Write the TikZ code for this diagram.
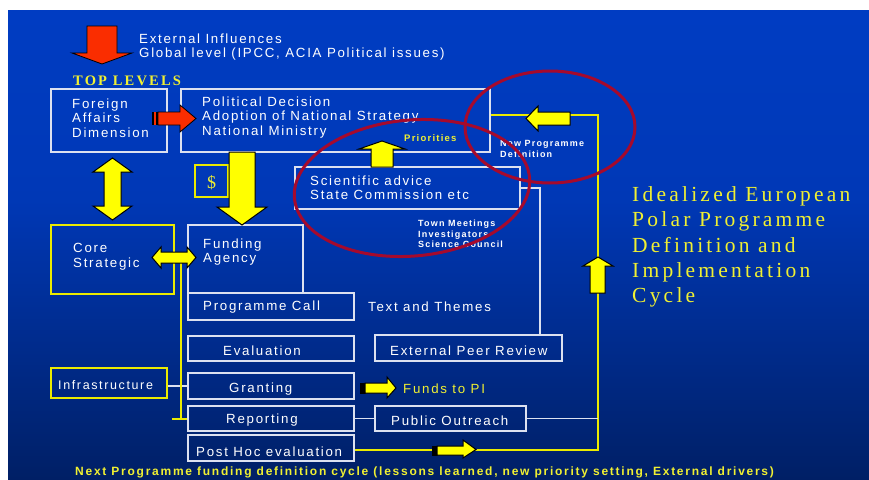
\documentclass[tikz,border=0pt]{standalone}
\usepackage{fontspec}
\setmainfont{Liberation Sans}
\newfontfamily\slidesans[LetterSpace=13]{Liberation Sans}
\newfontfamily\slidewide[LetterSpace=14.5]{Liberation Sans}
\newfontfamily\slideserif[LetterSpace=15]{Liberation Serif}
\usetikzlibrary{positioning}
\definecolor{bg_top}{RGB}{0,66,210}
\definecolor{bg_up}{RGB}{0,56,182}
\definecolor{bg_mid}{RGB}{0,34,110}
\definecolor{bg_bot}{RGB}{3,8,30}
\definecolor{box_white}{RGB}{220,225,240}
\definecolor{box_yellow}{RGB}{235,235,0}
\definecolor{text_yellow}{RGB}{240,240,50}
\definecolor{arrow_yellow}{RGB}{255,255,0}
\definecolor{arrow_red}{RGB}{250,45,0}
\definecolor{ring_red}{RGB}{165,10,45}
\pgfdeclareverticalshading{slidebg}{100bp}{color(0bp)=(bg_bot); color(28bp)=(bg_mid); color(55bp)=(bg_up); color(100bp)=(bg_top)}

\begin{document}
\begin{tikzpicture}[x=1pt,y=-1pt]
    \tikzstyle{wbox}=[draw=box_white, line width=1.3pt, inner sep=0pt]
    \tikzstyle{ybox}=[draw=box_yellow, line width=1.3pt, inner sep=0pt]
    \tikzstyle{txt}=[text=white, font=\slidesans\fontsize{13.3}{14.5}\selectfont, inner sep=0pt, align=left, anchor=west, yshift=-1.5pt]
    \tikzstyle{ytxt}=[txt, text=text_yellow]
    \tikzstyle{small}=[txt, font=\slidesans\bfseries\fontsize{9}{10.5}\selectfont]
    \tikzstyle{wline}=[draw=box_white, line width=1.2pt]
    \tikzstyle{yline}=[draw=box_yellow, line width=1.5pt]
    \tikzstyle{yarrow}=[fill=arrow_yellow, draw=black, line width=1pt]
    \tikzstyle{rarrow}=[fill=arrow_red, draw=black, line width=0.8pt]
    \tikzstyle{ring}=[draw=ring_red, line width=3pt]

    % slide background
    \fill[white] (0,0) rectangle (869,479);
    \shade[shading=slidebg] (8,10) rectangle (869,479);
    \useasboundingbox (0,0) rectangle (869,479);

    % boxes
    \node[wbox, minimum width=116, minimum height=63] (fad)   at (109,120.5) {};
    \node[wbox, minimum width=309, minimum height=63] (pol)   at (335.5,120.5) {};
    \node[wbox, minimum width=225, minimum height=42] (sci)   at (407.5,188) {};
    \node[ybox, minimum width=33, minimum height=32]  (cash)  at (211.5,181) {};
    \node[ybox, minimum width=123, minimum height=69] (core)  at (112.5,259.5) {};
    \node[wbox, minimum width=115, minimum height=68] (fund)  at (245.5,259) {};
    \node[wbox, minimum width=166, minimum height=27] (call)  at (271,306.5) {};
    \node[wbox, minimum width=166, minimum height=25] (eval)  at (271,348.5) {};
    \node[wbox, minimum width=187, minimum height=26] (peer)  at (468.5,348) {};
    \node[ybox, minimum width=116, minimum height=30] (infra) at (109,383) {};
    \node[wbox, minimum width=166, minimum height=26] (grant) at (271,386) {};
    \node[wbox, minimum width=166, minimum height=25] (report) at (271,418.5) {};
    \node[wbox, minimum width=151, minimum height=25] (outreach) at (450.5,418.5) {};
    \node[wbox, minimum width=166, minimum height=26] (posthoc) at (271,448) {};

    % texts
    \node[txt] (extT) at (139,45.5) {External Influences\\Global level (IPCC, ACIA Political issues)};
    \node[ytxt, font=\slideserif\bfseries\fontsize{14.5}{15}\selectfont] (topT) at (73,79) {TOP LEVELS};
    \node[txt] (fadT) at (72,116.5) {Foreign\\Affairs\\Dimension};
    \node[txt] (polT) at (202,116) {Political Decision\\Adoption of National Strategy\\National Ministry};
    \node[ytxt, font=\slidesans\bfseries\fontsize{9.5}{11}\selectfont] (prioT) at (404,137) {Priorities};
    \node[small, font=\slidesans\bfseries\fontsize{9}{11}\selectfont] (newT) at (500,147.5) {New Programme\\Definition};
    \node[txt] (sciT) at (310,186) {Scientific advice\\State Commission etc};
    \node[small] (townT) at (418,232.5) {Town Meetings\\Investigators\\Science Council};
    \node[ytxt, font=\slideserif\fontsize{18}{20}\selectfont, anchor=center, yshift=0pt] (cashT) at (cash) {\$};
    \node[txt] (coreT) at (73,255) {Core\\Strategic};
    \node[txt] (fundT) at (203,250.5) {Funding\\Agency};
    \node[txt] (callT) at (203,306) {Programme Call};
    \node[txt] (themeT) at (368,305) {Text and Themes};
    \node[txt] (evalT) at (223,349) {Evaluation};
    \node[txt] (peerT) at (390,349) {External Peer Review};
    \node[txt, font=\slidesans\fontsize{12.5}{14}\selectfont] (infraT) at (58,384) {Infrastructure};
    \node[txt] (grantT) at (229,388) {Granting};
    \node[ytxt] (piT) at (403,387) {Funds to PI};
    \node[txt] (reportT) at (226,419) {Reporting};
    \node[txt] (outreachT) at (391,419) {Public Outreach};
    \node[txt] (posthocT) at (196,450) {Post Hoc evaluation};
    \node[ytxt, font=\slidewide\bfseries\fontsize{12}{13}\selectfont] (nextT) at (75,471)
      {Next Programme funding definition cycle (lessons learned, new priority setting, External drivers)};
    \node[ytxt, font=\slideserif\fontsize{21.5}{25.3}\selectfont] (titleT) at (632,245.5)
      {Idealized European\\Polar Programme\\Definition and\\Implementation\\Cycle};

    % connectors
    \coordinate (yb) at (598,450);
    \coordinate (yt) at (598,115);
    \coordinate (sciR) at (540,188);
    \coordinate (ytop) at (181,262);
    \coordinate (ybot) at (181,419);
    \draw[yline] (posthoc.east |- yb) -- (yb) -- (yt) -- (yt -| pol.east);
    \draw[wline] (outreach.east) -- (outreach.east -| yb);
    \draw[wline] (sci.east) -- (sciR) -- (sciR |- peer.north);
    \draw[wline] (infra.east |- grant.west) -- (grant.west);
    \path (report) edge[wline] (outreach);
    \draw[yline] (ytop) -- (ybot);
    \draw[yline] ([xshift=-9pt]ybot) -- (ybot -| report.west);

    % block arrows
    \filldraw[rarrow] (87,26) -- (117,26) -- (117,53) -- (132,53) -- (102,64) -- (72,53) -- (87,53) -- cycle;
    \fill[black] (152,112) rectangle (159,125);
    \fill[arrow_red] (154,112) rectangle (155.5,125);
    \filldraw[rarrow] (158,112) -- (180,112) -- (180,105) -- (196,118.5) -- (180,132) -- (180,125) -- (158,125) -- cycle;
    \filldraw[yarrow] (104,172) -- (93,172) -- (112.5,158) -- (132,172) -- (121,172) -- (121,206) -- (132,206)
      -- (112.5,220) -- (93,206) -- (104,206) -- cycle;
    \filldraw[yarrow] (229,152) -- (255,152) -- (255,207) -- (267,207) -- (242,225) -- (217,207) -- (229,207) -- cycle;
    \filldraw[yarrow] (371,167) -- (371,149) -- (359,149) -- (382,141) -- (405,149) -- (393,149) -- (393,167) -- cycle;
    \filldraw[yarrow] (152,257.5) -- (161,247) -- (161,252) -- (187,252) -- (187,247) -- (196,257.5) -- (187,268)
      -- (187,263) -- (161,263) -- (161,268) -- cycle;
    \filldraw[yarrow] (526,118.5) -- (538,106) -- (538,112) -- (570,112) -- (570,125) -- (538,125) -- (538,131) -- cycle;
    \fill[black] (360,382.5) rectangle (366,393.5);
    \filldraw[yarrow] (365,383) -- (387,383) -- (387,377) -- (396,388) -- (387,398) -- (387,393) -- (365,393) -- cycle;
    \fill[black] (432,445.5) rectangle (438,455.5);
    \filldraw[yarrow] (437,446) -- (463,446) -- (463,440) -- (476,449.5) -- (463,458) -- (463,455) -- (437,455) -- cycle;
    \filldraw[yarrow] (590,293) -- (590,266) -- (583,266) -- (598,257) -- (613,266) -- (605,266) -- (605,293) -- cycle;

    % red rings
    \draw[ring, rotate around={5:(412,188)}] (412,188) ellipse [x radius=118, y radius=68];
    \draw[ring] (550,127) ellipse [x radius=85, y radius=56];
\end{tikzpicture}
\end{document}
